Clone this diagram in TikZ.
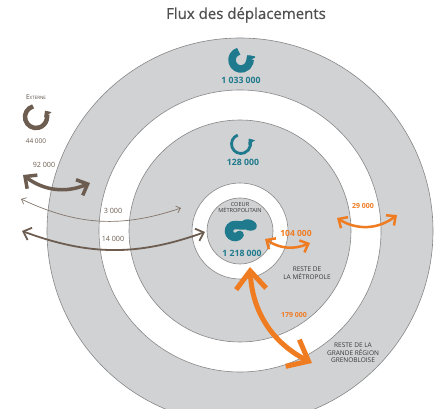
\documentclass[tikz,border=0pt]{standalone}
\usepackage{fontspec}
\setmainfont{Open Sans}
\newfontfamily\titrefont[FakeBold=0.8]{Open Sans}
\usetikzlibrary{arrows.meta}

\definecolor{ringgray}{RGB}{209,210,212}
\definecolor{edgegray}{RGB}{135,135,135}
\definecolor{tealc}{RGB}{30,122,140}
\definecolor{brownc}{RGB}{108,93,80}
\definecolor{orangec}{RGB}{240,124,34}
\definecolor{titlec}{RGB}{80,80,80}

\tikzset{
  barbxs/.tip={Straight Barb[length=4pt,width=7pt]},
  barbs/.tip={Straight Barb[length=7pt,width=13pt]},
  barbm/.tip={Straight Barb[length=9pt,width=17pt]},
  barbl/.tip={Straight Barb[length=18pt,width=30pt]}
}

\begin{document}
\begin{tikzpicture}[x=1pt,y=1pt,
  ring/.style={fill=ringgray,draw=edgegray,line width=0.6pt},
  hole/.style={fill=white,draw=edgegray,line width=0.6pt},
  tnum/.style={font=\bfseries\fontsize{8.7}{9}\selectfont,text=tealc,inner sep=0pt},
  onum/.style={font=\bfseries\fontsize{7}{8}\selectfont,text=orangec,inner sep=0pt},
  bnum/.style={font=\fontsize{7.2}{8}\selectfont,text=brownc,inner sep=0pt},
  zone/.style={font=\fontsize{6.5}{7.5}\selectfont,text=black!78,align=center,inner sep=0pt},
  fluxb/.style={brownc,line width=#1},
  fluxo/.style={orangec,line width=#1}]
\useasboundingbox (0,0) rectangle (436,409);
\begin{scope}
\clip (0,0) rectangle (436,409);
\coordinate (c) at (240,178);
\draw[ring] (c) circle (193pt);
\draw[hole] (c) circle (141pt);
\draw[ring] (c) circle (111pt);
\draw[hole] (c) circle (48pt);
\draw[ring] (c) circle (33pt);
\end{scope}

\node[font=\titrefont\fontsize{15}{18}\selectfont,text=titlec] (titre) at (246,394) {Flux des déplacements};

% boucles internes
\coordinate (icgrand) at (241,349);
\draw[tealc,line width=7.5pt,-{Triangle[round,length=5pt,width=12pt]}]
  (icgrand) ++(105:9) arc (105:390:9);
\node[tnum] (ngrand) at (241,329) {1 033 000};

\coordinate (icmetro) at (241,265);
\draw[tealc,line width=2.8pt,-{Triangle[length=5pt,width=8pt]}]
  (icmetro) ++(110:9.5) arc (110:395:9.5);
\node[tnum] (nmetro) at (243,247) {128 000};

\coordinate (iccoeur) at (235,178);
\draw[tealc,line width=8.5pt,line cap=round]
  (iccoeur) ++(-40:6) arc (-40:-275:6) -- ++(8,-0.5);
\fill[tealc,rotate around={-15:(249,184)}] (249,184) ellipse (8pt and 5.5pt);
\node[tnum] (ncoeur) at (242,156) {1 218 000};
\node[zone,font=\fontsize{5.6}{6.5}\selectfont] (coeur) at (240,201.5) {COEUR\\MÉTROPOLITAIN};

\coordinate (icext) at (36,292);
\draw[brownc,line width=4.5pt,-{Triangle[length=5pt,width=9pt]}]
  (icext) ++(105:11) arc (105:395:11);
\node[zone,text=brownc!80!black] (externe) at (36,312)
  {E{\fontsize{4.5}{5}\selectfont XTERNE}};
\node[bnum,font=\fontsize{6.5}{7}\selectfont] (next) at (36,268) {44 000};

\node[zone] (metro) at (307,136) {RESTE DE\\LA MÉTROPOLE};
\node[zone] (region) at (353,56) {RESTE DE LA\\GRANDE RÉGION\\GRENOBLOISE};

% flux avec l'externe
\coordinate (e1) at (23,234); \coordinate (e1b) at (90,226);
\draw[fluxb=3.5pt,barbm-barbm] (e1) to[bend right=30] (e1b);
\node[bnum] (n92) at (44,244) {92 000};

\coordinate (e2) at (21,210); \coordinate (e2b) at (181,201);
\draw[fluxb=0.7pt,brownc!85,barbxs-barbxs] (e2) to[bend right=22] (e2b);
\node[bnum] (n3) at (113,198) {3 000};

\coordinate (e3) at (22,178); \coordinate (e3b) at (205,177);
\draw[fluxb=1.8pt,barbs-barbs] (e3) to[bend right=20] (e3b);
\node[bnum] (n14) at (113,170) {14 000};

% flux entre zones
\coordinate (o1) at (265,170); \coordinate (o1b) at (310,166);
\draw[fluxo=2.5pt,barbs-barbs] (o1) to[bend right=28] (o1b);
\node[onum,font=\bfseries\fontsize{8.5}{9}\selectfont] (n104) at (296,176) {104 000};

\coordinate (o2) at (337,191); \coordinate (o2b) at (397,194);
\draw[fluxo=2.5pt,barbs-barbs] (o2) to[bend right=35] (o2b);
\node[onum] (n29) at (363,203) {29 000};

\coordinate (o3) at (250,142); \coordinate (o3b) at (312,46);
\draw[fluxo=5pt,barbl-barbl] (o3) to[bend right=30] (o3b);
\node[onum] (n179) at (294,94) {179 000};
\end{tikzpicture}
\end{document}
